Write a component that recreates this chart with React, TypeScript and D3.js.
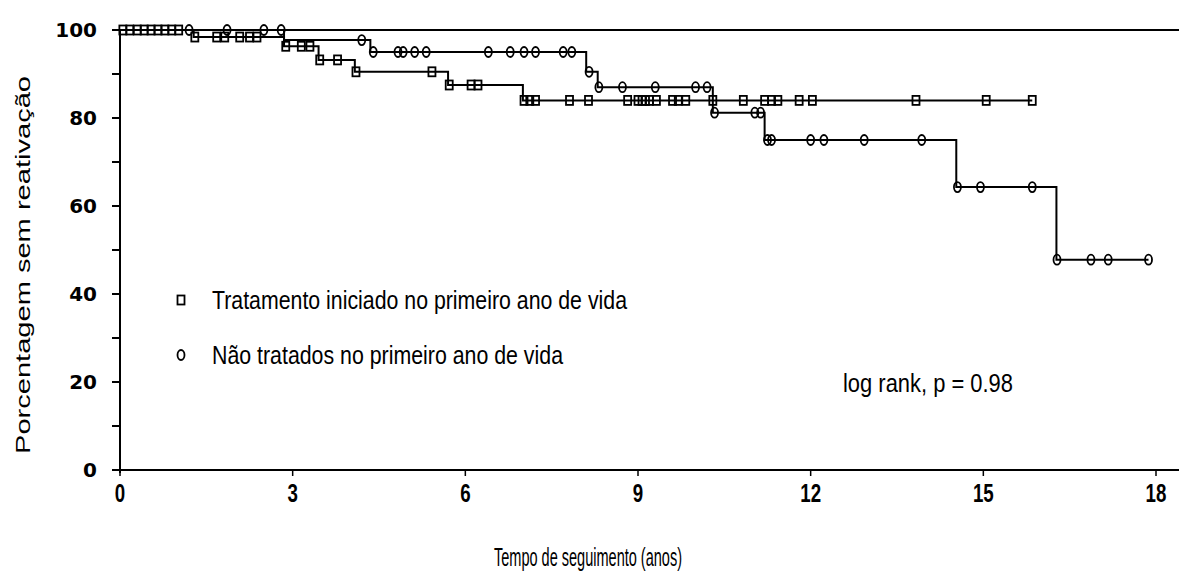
import React, { useEffect, useRef } from "react";
import * as d3 from "d3";

// Kaplan-Meier: [time, survival after step]
const treatedSteps: [number, number][] = [
  [1.28, 98.4], [2.85, 96.3], [3.45, 93.2], [4.08, 90.5], [5.7, 87.5], [7.0, 84.0],
];
const treatedEnd = 15.85;
const treatedCensored = [
  0.05, 0.17, 0.3, 0.42, 0.54, 0.66, 0.78, 0.9, 1.02, 1.3, 1.68, 1.82, 2.08, 2.25, 2.38,
  2.88, 3.15, 3.3, 3.47, 3.78, 4.1, 5.42, 5.72, 6.1, 6.22, 7.02, 7.12, 7.22, 7.81, 8.14,
  8.82, 9.0, 9.07, 9.13, 9.2, 9.32, 9.6, 9.7, 9.83, 10.3, 10.83, 11.2, 11.32, 11.43, 11.8,
  12.03, 13.83, 15.05, 15.85,
];

const untreatedSteps: [number, number][] = [
  [2.85, 97.7], [4.35, 95.0], [8.1, 90.5], [8.3, 87.0], [10.3, 81.2], [11.2, 75.0],
  [14.53, 64.3], [16.27, 47.8],
];
const untreatedEnd = 17.87;
const untreatedCensored = [
  1.2, 1.86, 2.5, 2.8, 4.2, 4.4, 4.83, 4.92, 5.12, 5.32, 6.4, 6.78, 7.02, 7.22, 7.7, 7.85,
  8.15, 8.32, 8.73, 9.3, 10.0, 10.2, 10.33, 11.03, 11.13, 11.25, 11.32, 12.0, 12.23, 12.93,
  13.93, 14.55, 14.95, 15.85, 16.28, 16.87, 17.17, 17.87,
];

const xTicks = [0, 3, 6, 9, 12, 15, 18];
const yTicks = [0, 10, 20, 30, 40, 50, 60, 70, 80, 90, 100];
const yLabels = [0, 20, 40, 60, 80, 100];

const legendLabels = [
  "Tratamento iniciado no primeiro ano de vida",
  "Não tratados no primeiro ano de vida",
];

const W = 1179;
const H = 579;

function levelAt(steps: [number, number][], t: number) {
  let s = 100;
  steps.forEach((d) => {
    if (d[0] <= t) s = d[1];
  });
  return s;
}

function stepPoints(steps: [number, number][], end: number): [number, number][] {
  const pts: [number, number][] = [[0, 100]];
  let s = 100;
  steps.forEach((d) => {
    pts.push([d[0], s]);
    pts.push([d[0], d[1]]);
    s = d[1];
  });
  pts.push([end, s]);
  return pts;
}

export default function App() {
  const ref = useRef<SVGSVGElement>(null);

  useEffect(() => {
    const svg = d3.select(ref.current);
    svg.selectAll("*").remove();

    const x = d3.scaleLinear().domain([0, 18]).range([120, 1156]);
    const y = d3.scaleLinear().domain([0, 100]).range([470, 30]);

    // top reference line and axes
    svg.append("line").attr("x1", 112).attr("x2", W).attr("y1", y(100)).attr("y2", y(100))
      .attr("stroke", "#000").attr("stroke-width", 2);
    svg.append("line").attr("x1", 112).attr("x2", W).attr("y1", y(0)).attr("y2", y(0))
      .attr("stroke", "#000").attr("stroke-width", 2);
    svg.append("line").attr("x1", x(0)).attr("x2", x(0)).attr("y1", y(100)).attr("y2", y(0) + 3)
      .attr("stroke", "#000").attr("stroke-width", 2);

    yTicks.forEach((t) => {
      svg.append("line").attr("x1", 112).attr("x2", x(0)).attr("y1", y(t)).attr("y2", y(t))
        .attr("stroke", "#000").attr("stroke-width", 2);
    });
    yLabels.forEach((t) => {
      svg.append("text").attr("x", 97).attr("y", y(t) + 7).attr("text-anchor", "end")
        .attr("font-family", "DejaVu Sans").attr("font-weight", "bold").attr("font-size", 20)
        .text(t);
    });
    xTicks.forEach((t) => {
      svg.append("line").attr("x1", x(t)).attr("x2", x(t)).attr("y1", y(0)).attr("y2", y(0) + 6)
        .attr("stroke", "#000").attr("stroke-width", 1.5);
      svg.append("text")
        .attr("transform", "translate(" + x(t) + "," + 502 + ") scale(0.72,1)")
        .attr("text-anchor", "middle")
        .attr("font-family", "Liberation Sans").attr("font-weight", "bold").attr("font-size", 26)
        .text(t);
    });

    // axis titles
    svg.append("text").attr("transform", "translate(30,265) rotate(-90)")
      .attr("text-anchor", "middle").attr("font-family", "Liberation Sans").attr("font-size", 21)
      .attr("textLength", 378).attr("lengthAdjust", "spacingAndGlyphs")
      .text("Porcentagem sem reativação");
    svg.append("text").attr("x", 588).attr("y", 566).attr("text-anchor", "middle")
      .attr("font-family", "Liberation Sans").attr("font-size", 25)
      .attr("textLength", 188).attr("lengthAdjust", "spacingAndGlyphs")
      .text("Tempo de seguimento (anos)");

    // curves
    const line = d3.line<[number, number]>().x((d) => x(d[0])).y((d) => y(d[1]));
    const g = svg.append("g");
    g.append("path").datum(stepPoints(treatedSteps, treatedEnd))
      .attr("d", line).attr("fill", "none").attr("stroke", "#000").attr("stroke-width", 2);
    g.append("path").datum(stepPoints(untreatedSteps, untreatedEnd))
      .attr("d", line).attr("fill", "none").attr("stroke", "#000").attr("stroke-width", 2);

    const sq = (px: number, py: number) =>
      g.append("rect").attr("x", px - 3.5).attr("y", py - 4.5).attr("width", 7).attr("height", 9)
        .attr("fill", "none").attr("stroke", "#000").attr("stroke-width", 1.8);
    const ci = (px: number, py: number) =>
      g.append("ellipse").attr("cx", px).attr("cy", py).attr("rx", 3.5).attr("ry", 5)
        .attr("fill", "none").attr("stroke", "#000").attr("stroke-width", 1.8);

    treatedCensored.forEach((t) => sq(x(t), y(levelAt(treatedSteps, t))));
    untreatedCensored.forEach((t) => ci(x(t), y(levelAt(untreatedSteps, t))));

    // legend
    sq(181, 300);
    ci(181, 355);
    svg.append("text").attr("x", 212).attr("y", 309).attr("font-family", "Liberation Sans")
      .attr("font-size", 26).attr("textLength", 415).attr("lengthAdjust", "spacingAndGlyphs")
      .text(legendLabels[0]);
    svg.append("text").attr("x", 212).attr("y", 364).attr("font-family", "Liberation Sans")
      .attr("font-size", 26).attr("textLength", 351).attr("lengthAdjust", "spacingAndGlyphs")
      .text(legendLabels[1]);
    svg.append("text").attr("x", 843).attr("y", 392).attr("font-family", "Liberation Sans")
      .attr("font-size", 26).attr("textLength", 170).attr("lengthAdjust", "spacingAndGlyphs")
      .text("log rank, p = 0.98");
  }, []);

  return (
    <svg ref={ref} width={W} height={H}
      style={{ position: "absolute", left: 0, top: 0, background: "#fff" }} />
  );
}
